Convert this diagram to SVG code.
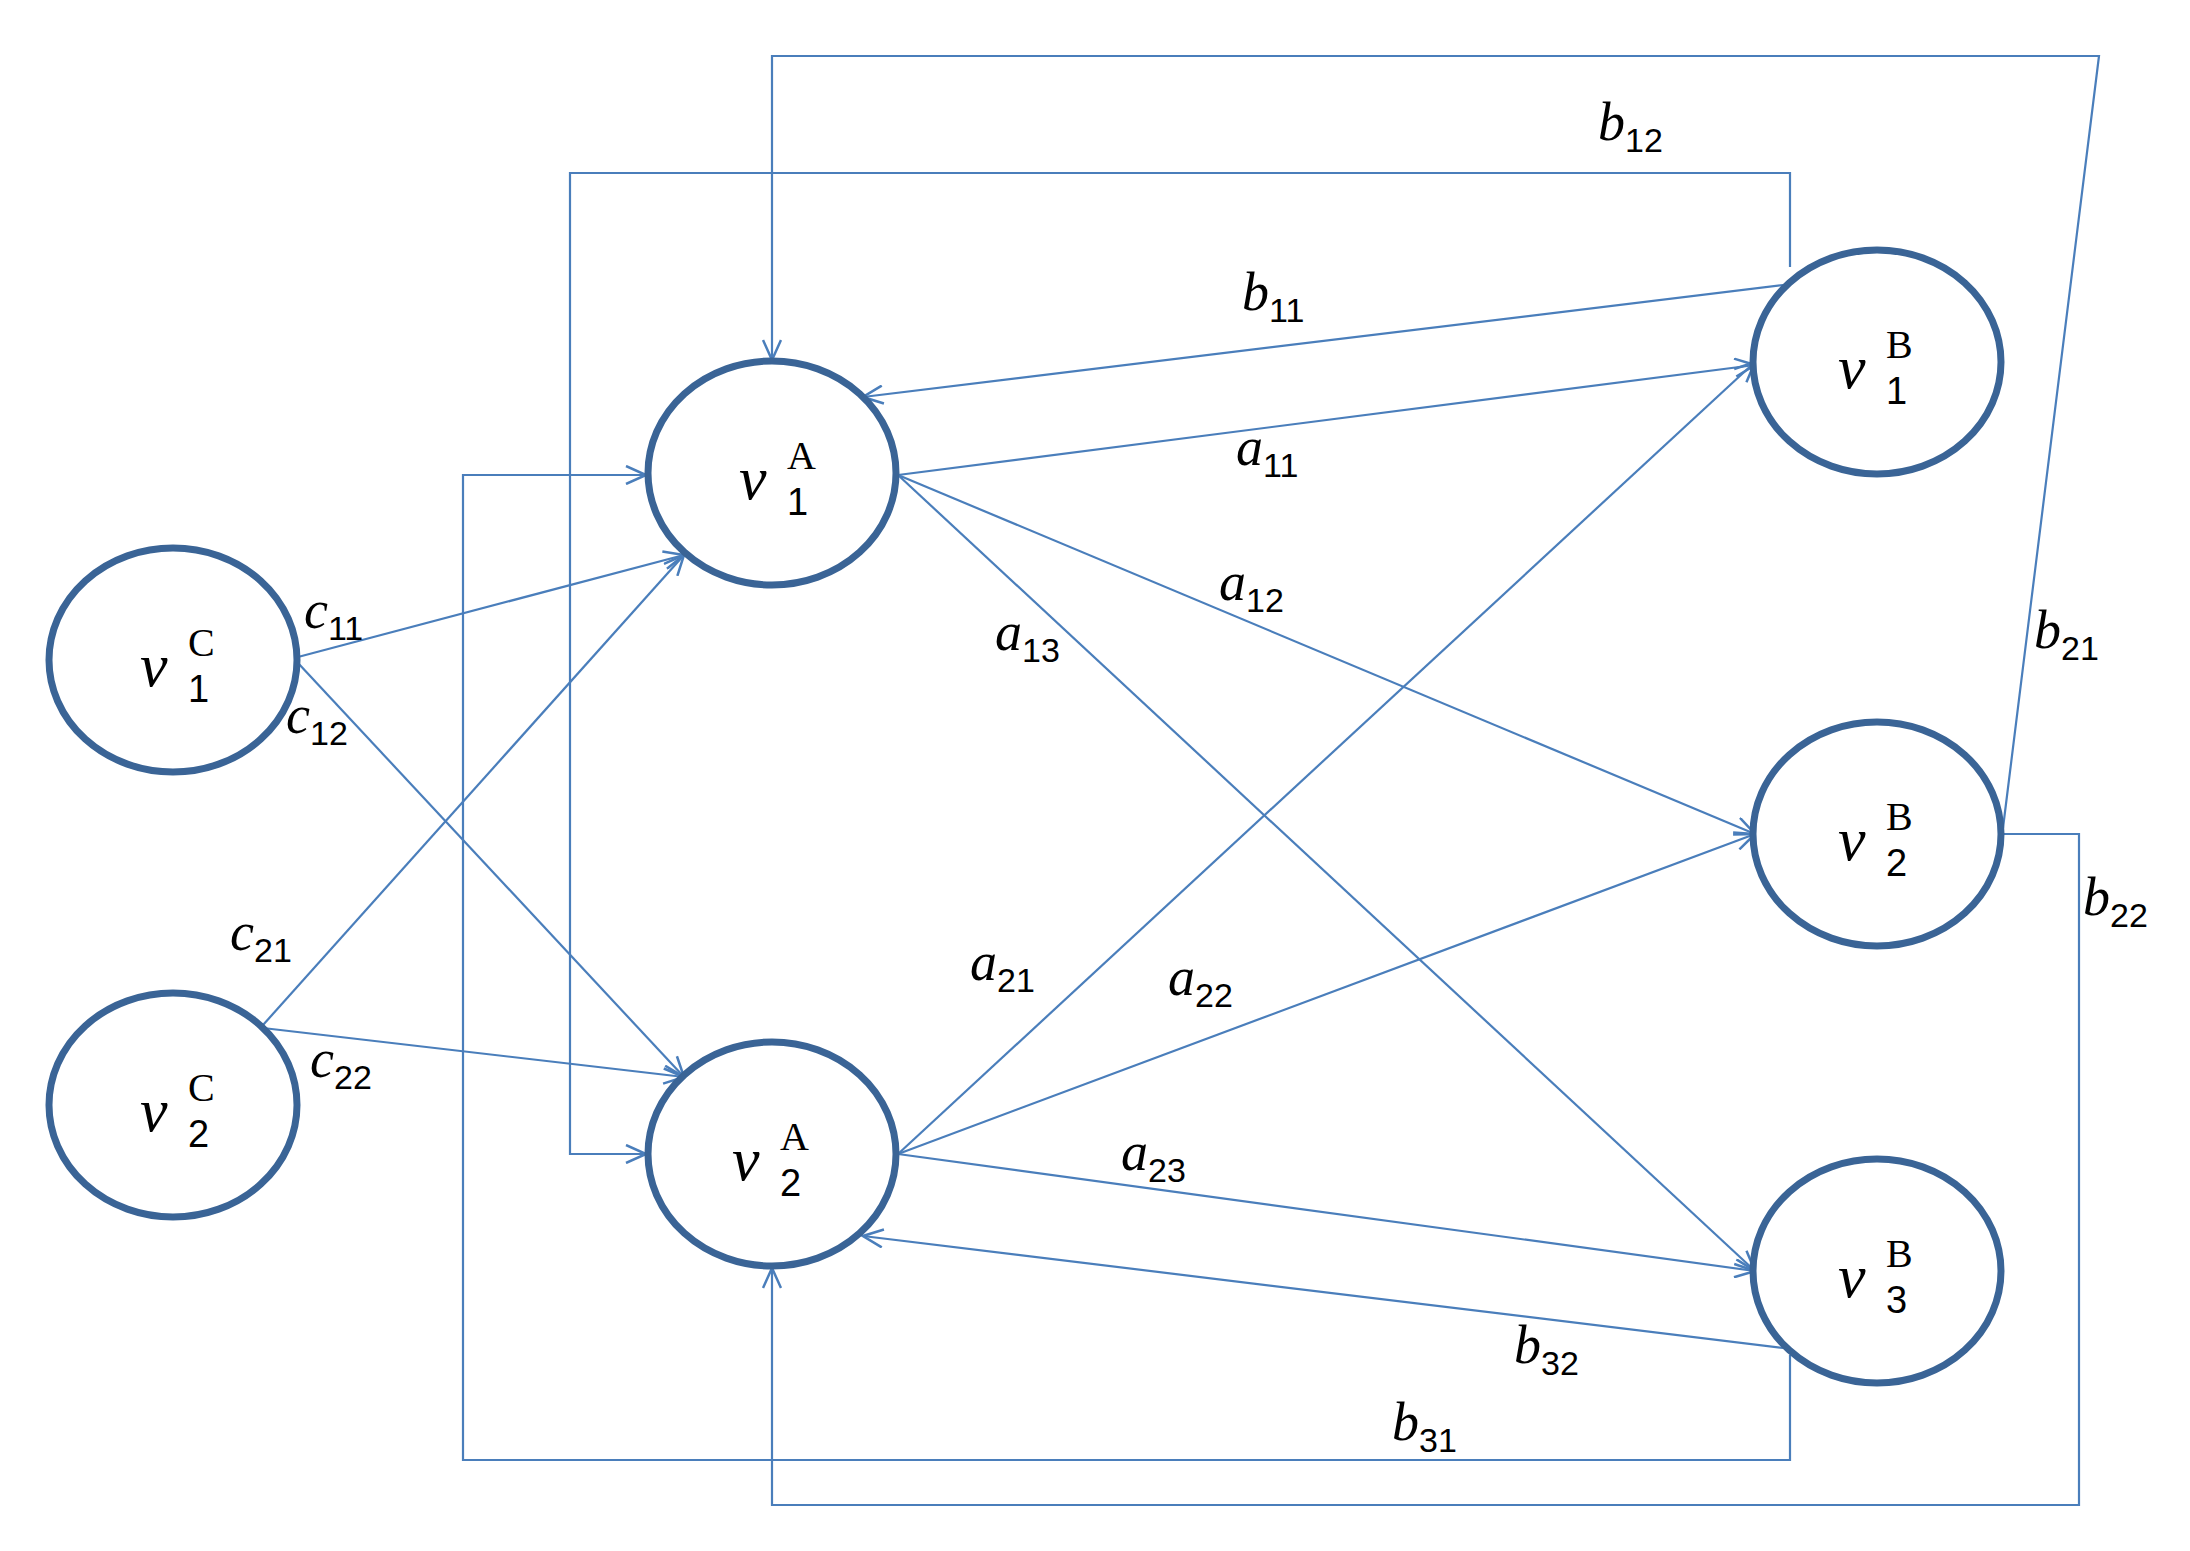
<svg xmlns="http://www.w3.org/2000/svg" width="2190" height="1551" viewBox="0 0 2190 1551">
<style>
.n{fill:#fff;stroke:#3a6496;stroke-width:7}
.e{fill:none;stroke:#4a7ebb;stroke-width:2.2}
.v{font-family:"Liberation Serif",serif;font-style:italic;font-size:62px;fill:#000}
.sp{font-family:"Liberation Serif",serif;font-style:normal;font-size:40px}
.sb{font-family:"Liberation Sans",sans-serif;font-style:normal;font-size:38px}
.l{font-family:"Liberation Serif",serif;font-style:italic;font-size:54px;fill:#000}
.ls{font-family:"Liberation Sans",sans-serif;font-style:normal;font-size:34px}
</style>
<defs>
<marker id="ar" markerWidth="24" markerHeight="20" refX="22" refY="10" orient="auto" markerUnits="userSpaceOnUse">
<path d="M2,1 L22,10 L2,19" fill="none" stroke="#4a7ebb" stroke-width="2.5"/>
</marker>
</defs>
<g id="edges" class="e" marker-end="url(#ar)">
<polyline points="2003,828 2099,56 772,56 772,360"/>
<polyline points="1790,267 1790,173 570,173 570,1154 646,1154"/>
<polyline points="2003,834 2079,834 2079,1505 772,1505 772,1268"/>
<polyline points="1790,1355 1790,1460 463,1460 463,475 646,475"/>
<line x1="1783" y1="285" x2="863" y2="397"/>
<line x1="898" y1="475" x2="1755" y2="365"/>
<line x1="898" y1="475" x2="1755" y2="834"/>
<line x1="898" y1="475" x2="1755" y2="1271"/>
<line x1="898" y1="1154" x2="1755" y2="362"/>
<line x1="898" y1="1154" x2="1755" y2="834"/>
<line x1="898" y1="1154" x2="1755" y2="1271"/>
<line x1="1783" y1="1348" x2="863" y2="1236"/>
<line x1="298" y1="657" x2="684" y2="555"/>
<line x1="298" y1="663" x2="684" y2="1077"/>
<line x1="263" y1="1025" x2="684" y2="555"/>
<line x1="263" y1="1028" x2="684" y2="1077"/>
</g>
<g id="vC1"><ellipse class="n" cx="173" cy="660" rx="124" ry="112"/><text class="v" x="140" y="686">v<tspan class="sp" x="188" y="656">C</tspan><tspan class="sb" x="188" y="702">1</tspan></text></g>
<g id="vC2"><ellipse class="n" cx="173" cy="1105" rx="124" ry="112"/><text class="v" x="140" y="1131">v<tspan class="sp" x="188" y="1101">C</tspan><tspan class="sb" x="188" y="1147">2</tspan></text></g>
<g id="vA1"><ellipse class="n" cx="772" cy="473" rx="124" ry="112"/><text class="v" x="739" y="499">v<tspan class="sp" x="787" y="469">A</tspan><tspan class="sb" x="787" y="515">1</tspan></text></g>
<g id="vA2"><ellipse class="n" cx="772" cy="1154" rx="124" ry="112"/><text class="v" x="732" y="1180">v<tspan class="sp" x="780" y="1150">A</tspan><tspan class="sb" x="780" y="1196">2</tspan></text></g>
<g id="vB1"><ellipse class="n" cx="1877" cy="362" rx="124" ry="112"/><text class="v" x="1838" y="388">v<tspan class="sp" x="1886" y="358">B</tspan><tspan class="sb" x="1886" y="404">1</tspan></text></g>
<g id="vB2"><ellipse class="n" cx="1877" cy="834" rx="124" ry="112"/><text class="v" x="1838" y="860">v<tspan class="sp" x="1886" y="830">B</tspan><tspan class="sb" x="1886" y="876">2</tspan></text></g>
<g id="vB3"><ellipse class="n" cx="1877" cy="1271" rx="124" ry="112"/><text class="v" x="1838" y="1297">v<tspan class="sp" x="1886" y="1267">B</tspan><tspan class="sb" x="1886" y="1313">3</tspan></text></g>
<g id="labels">
<text class="l" x="1598" y="140">b<tspan class="ls" dy="12">12</tspan></text>
<text class="l" x="1242" y="310">b<tspan class="ls" dy="12">11</tspan></text>
<text class="l" x="1236" y="465">a<tspan class="ls" dy="12">11</tspan></text>
<text class="l" x="1219" y="600">a<tspan class="ls" dy="12">12</tspan></text>
<text class="l" x="995" y="650">a<tspan class="ls" dy="12">13</tspan></text>
<text class="l" x="2034" y="648">b<tspan class="ls" dy="12">21</tspan></text>
<text class="l" x="2083" y="915">b<tspan class="ls" dy="12">22</tspan></text>
<text class="l" x="304" y="628">c<tspan class="ls" dy="12">11</tspan></text>
<text class="l" x="286" y="733">c<tspan class="ls" dy="12">12</tspan></text>
<text class="l" x="230" y="950">c<tspan class="ls" dy="12">21</tspan></text>
<text class="l" x="310" y="1077">c<tspan class="ls" dy="12">22</tspan></text>
<text class="l" x="970" y="980">a<tspan class="ls" dy="12">21</tspan></text>
<text class="l" x="1168" y="995">a<tspan class="ls" dy="12">22</tspan></text>
<text class="l" x="1121" y="1170">a<tspan class="ls" dy="12">23</tspan></text>
<text class="l" x="1514" y="1363">b<tspan class="ls" dy="12">32</tspan></text>
<text class="l" x="1392" y="1440">b<tspan class="ls" dy="12">31</tspan></text>
</g>
</svg>
